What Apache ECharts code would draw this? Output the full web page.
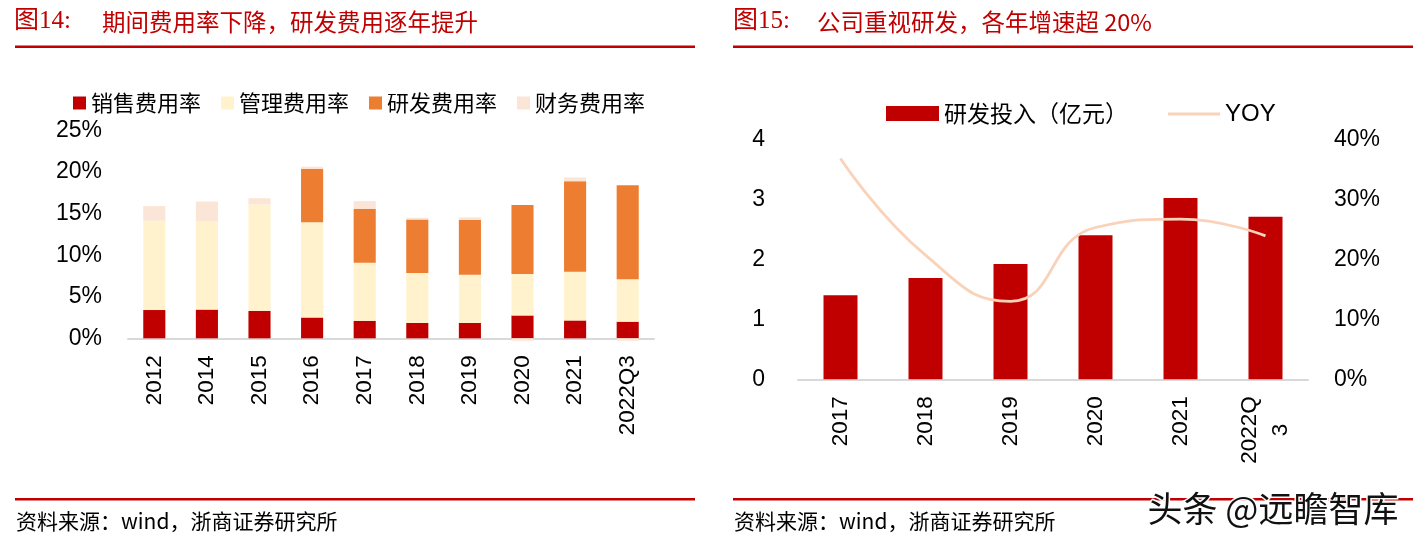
<!DOCTYPE html>
<html><head><meta charset="utf-8">
<script src="https://cdn.jsdelivr.net/npm/echarts@6/dist/echarts.min.js"></script>
<style>html,body{margin:0;padding:0;background:#fff}#c{width:1423px;height:545px}</style>
</head><body><div id="c"></div>
<script>
// ---- Left chart data (图14) ----
const catsL = ['2012','2014','2015','2016','2017','2018','2019','2020','2021','2022Q3'];
const sales = [3.4, 3.45, 3.3, 2.5, 2.1, 1.85, 1.85, 2.75, 2.15, 2.0];
const admin = [10.75, 10.6, 12.8, 11.45, 7.0, 6.0, 5.8, 5.0, 5.85, 5.1];
const rnd   = [0, 0, 0, 6.45, 6.5, 6.45, 6.6, 8.3, 10.9, 11.3];
const fin   = [1.75, 2.4, 0.75, 0.25, 0.9, 0.2, 0.3, -0.3, 0.45, -0.3];
const namesL = ['销售费用率','管理费用率','研发费用率','财务费用率'];
// ---- Right chart data (图15) ----
const catsR = ['2017','2018','2019','2020','2021','2022Q3'];
const rdInvest = [1.4, 1.69, 1.92, 2.4, 3.02, 2.71];
const yoy = [36.8, 20.7, 13.0, 25.3, 26.7, 23.9];
const namesR = ['研发投入（亿元）','YOY'];
// ---- Texts ----
const titleL = ['图14:', '期间费用率下降，研发费用逐年提升'];
const titleR = ['图15:', '公司重视研发，各年增速超 20%'];
const source = '资料来源：wind，浙商证券研究所';
const watermark = '头条 @远瞻智库';

const RED = '#C00000';
const CJK = '"Noto Sans CJK SC", sans-serif';
const NUM = '"Liberation Sans", Arial, sans-serif';
const SERIF = '"Liberation Serif", "Noto Sans CJK SC", serif';
const colorsL = ['#C00000', '#FFF2CC', '#ED7D31', '#FBE5D6'];

const chart = echarts.init(document.getElementById('c'), null, {renderer: 'canvas'});

const axisLabelBase = {color: '#000', fontFamily: NUM, fontSize: 23};

const option = {
  animation: false,
  backgroundColor: '#fff',
  grid: [
    {left: 128, right: 769, top: 130.5, bottom: 206.7},
    {left: 798, right: 115, top: 139.3, bottom: 165.7}
  ],
  legend: [
    {
      left: 68, top: 87, itemWidth: 13, itemHeight: 13, itemGap: 20,
      icon: 'rect', data: namesL,
      textStyle: {fontFamily: CJK, fontSize: 22, color: '#000'}
    },
    {
      left: 881, top: 97, itemWidth: 53, itemHeight: 15, icon: 'rect',
      data: [namesR[0]],
      textStyle: {fontFamily: CJK, fontSize: 23, color: '#000'}
    },
    {
      left: 1163, top: 97, itemWidth: 52, itemHeight: 3, icon: 'rect',
      data: [namesR[1]],
      textStyle: {fontFamily: NUM, fontSize: 24, color: '#000'}
    }
  ],
  xAxis: [
    {
      type: 'category', gridIndex: 0, data: catsL,
      axisLine: {lineStyle: {color: '#D9D9D9', width: 2}},
      axisTick: {show: false},
      axisLabel: Object.assign({}, axisLabelBase, {rotate: 90, margin: 17, fontSize: 22.5})
    },
    {
      type: 'category', gridIndex: 1, data: catsR,
      axisLine: {lineStyle: {color: '#D9D9D9', width: 2}},
      axisTick: {show: false},
      axisLabel: Object.assign({}, axisLabelBase, {
        rotate: 90, margin: 17, fontSize: 22.5,
        formatter: function (v) {
          return v.length > 5 ? '{a|' + v.slice(0, 5) + '}\n{b|' + v.slice(5) + '}' : v;
        },
        rich: {
          a: {fontFamily: NUM, fontSize: 22.5, color: '#000', lineHeight: 31},
          b: {fontFamily: NUM, fontSize: 22.5, color: '#000', align: 'center', lineHeight: 31}
        }
      })
    }
  ],
  yAxis: [
    {
      type: 'value', gridIndex: 0, min: 0, max: 25, interval: 5,
      splitLine: {show: false}, axisLine: {show: false}, axisTick: {show: false},
      axisLabel: Object.assign({}, axisLabelBase, {margin: 26, formatter: '{value}%'})
    },
    {
      type: 'value', gridIndex: 1, min: 0, max: 4, interval: 1,
      splitLine: {show: false}, axisLine: {show: false}, axisTick: {show: false},
      axisLabel: Object.assign({}, axisLabelBase, {margin: 33})
    },
    {
      type: 'value', gridIndex: 1, position: 'right', min: 0, max: 40, interval: 10,
      splitLine: {show: false}, axisLine: {show: false}, axisTick: {show: false},
      axisLabel: Object.assign({}, axisLabelBase, {margin: 26, formatter: '{value}%'})
    }
  ],
  series: [
    {name: namesL[0], type: 'bar', stack: 'L', xAxisIndex: 0, yAxisIndex: 0, data: sales, barWidth: '42%', itemStyle: {color: colorsL[0]}},
    {name: namesL[1], type: 'bar', stack: 'L', xAxisIndex: 0, yAxisIndex: 0, data: admin, barWidth: '42%', itemStyle: {color: colorsL[1]}},
    {name: namesL[2], type: 'bar', stack: 'L', xAxisIndex: 0, yAxisIndex: 0, data: rnd, barWidth: '42%', itemStyle: {color: colorsL[2]}},
    {name: namesL[3], type: 'bar', stack: 'L', xAxisIndex: 0, yAxisIndex: 0, data: fin, barWidth: '42%', clip: false, itemStyle: {color: colorsL[3]}},
    {name: namesR[0], type: 'bar', xAxisIndex: 1, yAxisIndex: 1, data: rdInvest, barWidth: '40%', itemStyle: {color: RED}},
    {name: namesR[1], type: 'line', xAxisIndex: 1, yAxisIndex: 2, data: yoy, smooth: 0.5, symbol: 'none',
      lineStyle: {color: '#F9D2BA', width: 2.8}, itemStyle: {color: '#F9D2BA'}}
  ],
  graphic: [
    {type: 'text', left: 14, top: 9, style: {text: titleL[0], fill: RED, font: '25px ' + SERIF}},
    {type: 'text', left: 102, top: 10, style: {text: titleL[1], fill: RED, font: '23.5px ' + CJK}},
    {type: 'text', left: 733, top: 9, style: {text: titleR[0], fill: RED, font: '25px ' + SERIF}},
    {type: 'text', left: 817, top: 10, style: {text: titleR[1], fill: RED, font: '23.5px ' + CJK}},
    {type: 'rect', shape: {x: 15, y: 45.5, width: 680, height: 2.5}, style: {fill: RED}},
    {type: 'rect', shape: {x: 733, y: 45.5, width: 680, height: 2.5}, style: {fill: RED}},
    {type: 'rect', shape: {x: 15, y: 498, width: 680, height: 2.5}, style: {fill: RED}},
    {type: 'rect', shape: {x: 733, y: 498, width: 680, height: 2.5}, style: {fill: RED}},
    {type: 'text', left: 16, top: 511, style: {text: source, fill: '#000', font: '21px ' + CJK}},
    {type: 'text', left: 734, top: 511, style: {text: source, fill: '#000', font: '21px ' + CJK}},
    {type: 'text', left: 1146, top: 490, z: 100, style: {text: watermark, fill: '#111', stroke: '#fff', lineWidth: 3,
      font: '35px ' + CJK, shadowColor: 'rgba(0,0,0,0.35)', shadowBlur: 2, shadowOffsetX: 1, shadowOffsetY: 1}}
  ]
};
chart.setOption(option);
</script>
</body></html>
